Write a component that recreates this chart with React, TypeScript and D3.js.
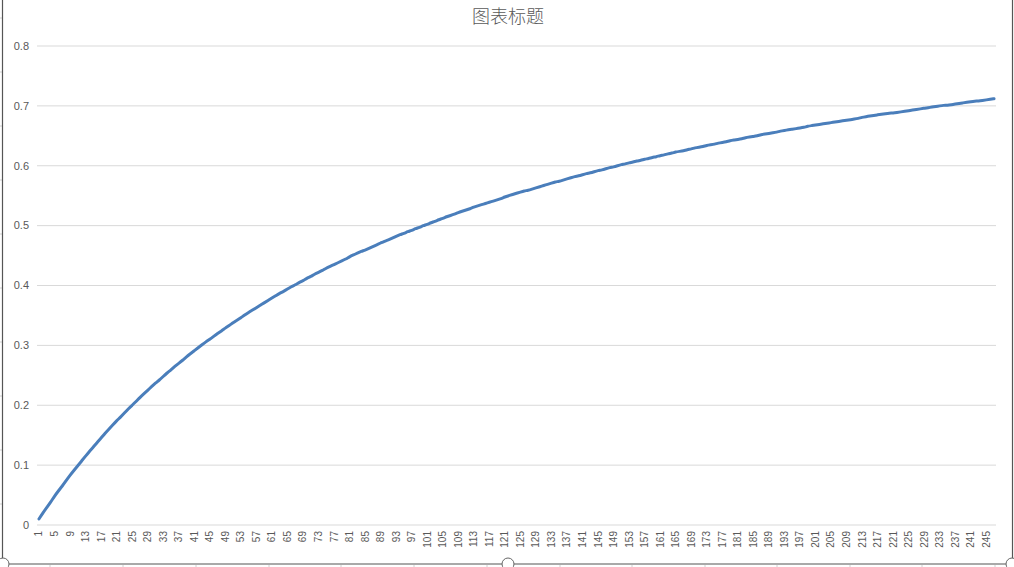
import React from "react";
import * as d3 from "d3";

const title = "图表标题";
const yTicks = [0, 0.1, 0.2, 0.3, 0.4, 0.5, 0.6, 0.7, 0.8];
const values = [
  0.010, 0.020, 0.029, 0.038, 0.048, 0.057, 0.065, 0.074, 0.083, 0.091,
  0.099, 0.107, 0.115, 0.123, 0.130, 0.138, 0.145, 0.153, 0.160, 0.167,
  0.174, 0.180, 0.187, 0.194, 0.200, 0.206, 0.213, 0.219, 0.225, 0.231,
  0.237, 0.242, 0.248, 0.254, 0.259, 0.265, 0.270, 0.275, 0.281, 0.286,
  0.291, 0.296, 0.301, 0.306, 0.310, 0.315, 0.320, 0.324, 0.329, 0.333,
  0.338, 0.342, 0.346, 0.351, 0.355, 0.359, 0.363, 0.367, 0.371, 0.375,
  0.379, 0.383, 0.387, 0.390, 0.394, 0.398, 0.401, 0.405, 0.408, 0.412,
  0.415, 0.419, 0.422, 0.425, 0.429, 0.432, 0.435, 0.438, 0.441, 0.444,
  0.448, 0.451, 0.454, 0.457, 0.459, 0.462, 0.465, 0.468, 0.471, 0.474,
  0.476, 0.479, 0.482, 0.485, 0.487, 0.490, 0.492, 0.495, 0.497, 0.500,
  0.502, 0.505, 0.507, 0.510, 0.512, 0.515, 0.517, 0.519, 0.522, 0.524,
  0.526, 0.528, 0.531, 0.533, 0.535, 0.537, 0.539, 0.541, 0.543, 0.545,
  0.548, 0.550, 0.552, 0.554, 0.556, 0.558, 0.559, 0.561, 0.563, 0.565,
  0.567, 0.569, 0.571, 0.573, 0.574, 0.576, 0.578, 0.580, 0.582, 0.583,
  0.585, 0.587, 0.588, 0.590, 0.592, 0.593, 0.595, 0.597, 0.598, 0.600,
  0.602, 0.603, 0.605, 0.606, 0.608, 0.609, 0.611, 0.612, 0.614, 0.615,
  0.617, 0.618, 0.620, 0.621, 0.623, 0.624, 0.625, 0.627, 0.628, 0.630,
  0.631, 0.632, 0.634, 0.635, 0.636, 0.638, 0.639, 0.640, 0.642, 0.643,
  0.644, 0.645, 0.647, 0.648, 0.649, 0.650, 0.652, 0.653, 0.654, 0.655,
  0.656, 0.658, 0.659, 0.660, 0.661, 0.662, 0.663, 0.664, 0.666, 0.667,
  0.668, 0.669, 0.670, 0.671, 0.672, 0.673, 0.674, 0.675, 0.676, 0.677,
  0.678, 0.679, 0.681, 0.682, 0.683, 0.684, 0.685, 0.686, 0.687, 0.688,
  0.688, 0.689, 0.690, 0.691, 0.692, 0.693, 0.694, 0.695, 0.696, 0.697,
  0.698, 0.699, 0.700, 0.701, 0.701, 0.702, 0.703, 0.704, 0.705, 0.706,
  0.707, 0.708, 0.708, 0.709, 0.710, 0.711, 0.712,
];
const categories = values.map((_, i) => String(i + 1));
const shownLabels = categories.filter((_, i) => i % 4 === 0);

const W = 1014;
const H = 567;
const plotLeft = 37;
const plotRight = 996;
const plotTop = 46;
const plotBottom = 525;

export default function App() {
  const x = d3.scaleBand<string>().domain(categories).range([plotLeft, plotRight]);
  const y = d3.scaleLinear().domain([0, 0.8]).range([plotBottom, plotTop]);
  const line = d3
    .line<number>()
    .x((_, i) => (x(categories[i]) as number) + x.bandwidth() / 2)
    .y((d) => y(d))
    .curve(d3.curveBasis);
  const labelFont = "'Liberation Sans', Arial, sans-serif";
  const handles = [3, 508, 1012];
  return (
    <svg
      width={W}
      height={H}
      style={{ position: "absolute", left: 0, top: 0, background: "#fff" }}
    >
      {[18, 72, 126, 180, 234, 288, 342, 396, 450, 504].map((yy) => (
        <line key={"lg" + yy} x1={0} x2={2} y1={yy} y2={yy} stroke="#d0d0d0" />
      ))}
      {[50, 123, 196, 269, 341, 414, 487, 560, 632, 705, 777, 850, 922, 995].map((xx) => (
        <line key={"bg" + xx} x1={xx} x2={xx} y1={565} y2={567} stroke="#d0d0d0" />
      ))}
      {yTicks.map((t) => (
        <line
          key={"g" + t}
          x1={plotLeft}
          x2={plotRight}
          y1={y(t)}
          y2={y(t)}
          stroke="#d9d9d9"
          strokeWidth={1}
        />
      ))}
      {yTicks.map((t) => (
        <text
          key={"yl" + t}
          x={29}
          y={y(t)}
          dy="0.35em"
          textAnchor="end"
          fontFamily={labelFont}
          fontSize={11}
          fill="#595959"
        >
          {t === 0 ? "0" : d3.format(".1f")(t)}
        </text>
      ))}
      {shownLabels.map((c) => {
        const cx = (x(c) as number) + x.bandwidth() / 2;
        return (
          <text
            key={"xl" + c}
            transform={`translate(${cx + 3.5},531) rotate(-90)`}
            textAnchor="end"
            fontFamily={labelFont}
            fontSize={10}
            fill="#595959"
          >
            {c}
          </text>
        );
      })}
      <path d={line(values) || ""} fill="none" stroke="#4A7EBB" strokeWidth={3} strokeLinecap="round" />
      <text
        x={508}
        y={23}
        textAnchor="middle"
        fontFamily="'Noto Sans CJK SC', sans-serif"
        fontSize={18}
        fontWeight={300}
        fill="#595959"
      >
        {title}
      </text>
      <line x1={2.5} x2={2.5} y1={0} y2={564} stroke="#555" strokeWidth={1.2} />
      <line x1={1012.5} x2={1012.5} y1={0} y2={564} stroke="#555" strokeWidth={1.2} />
      <line x1={2.5} x2={1012.5} y1={564} y2={564} stroke="#555" strokeWidth={1.2} />
      {handles.map((hx) => (
        <circle key={"h" + hx} cx={hx} cy={564} r={6} fill="#fff" stroke="#666" strokeWidth={1} />
      ))}
    </svg>
  );
}
